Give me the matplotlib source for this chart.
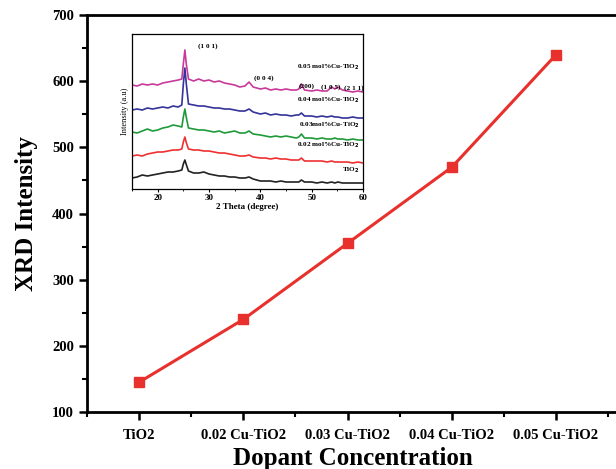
import numpy as np
import matplotlib.pyplot as plt
from matplotlib.ticker import MultipleLocator

plt.rcParams['font.family'] = ['Liberation Serif', 'DejaVu Serif']
plt.rcParams['font.weight'] = 'bold'

# main series
categories = ['TiO2', '0.02 Cu-TiO2', '0.03 Cu-TiO2', '0.04 Cu-TiO2', '0.05 Cu-TiO2']
xrd_intensity = [145, 240, 355, 470, 640]

# inset: XRD patterns (offset, arbitrary units)
two_theta = [15, 16, 17, 18, 19, 20, 21, 22, 23, 24,
             24.7, 25.0, 25.3, 25.6, 26.0,
             27, 28, 29, 30, 31, 32, 33, 34, 35, 36, 37,
             37.8, 38.6,
             40, 41, 42, 43, 44, 45, 46, 47,
             47.5, 48.0, 48.6,
             50, 51, 52, 53,
             53.9, 54.5, 55.1,
             56, 57, 58, 59, 60]
pat_005 = [104, 103, 105, 104, 105, 104, 106, 107, 108, 109,
           110, 125, 139, 124, 110,
           108, 110, 108, 109, 107, 108, 106, 105, 104, 102, 103,
           107, 102,
           100, 101, 99, 100, 99, 100, 99, 99,
           100, 105, 99,
           98, 99, 98, 98,
           102, 100, 102,
           99, 98, 97, 98, 97]
pat_004 = [79, 80, 79, 81, 80, 81, 82, 81, 83, 82,
           84, 105, 121, 104, 85,
           84, 83, 83, 82, 81, 81, 80, 80, 79, 78, 78,
           80, 77,
           75, 76, 74, 75, 74, 74, 73, 74,
           74, 76, 73,
           73, 72, 73, 72,
           73, 72, 72,
           71, 71, 72, 71, 71]
pat_003 = [57, 56, 58, 60, 58, 59, 61, 62, 64, 63,
           62, 72, 80, 71, 61,
           60, 59, 59, 58, 57, 58, 56, 57, 58, 56, 56,
           58, 55,
           54, 53, 52, 53, 52, 53, 52, 51,
           52, 55, 51,
           51, 50, 51, 50,
           50, 51, 50,
           50, 49, 50, 49, 49]
pat_002 = [33, 34, 33, 35, 36, 37, 37, 38, 39, 39,
           40, 47, 52, 46, 40,
           39, 39, 38, 38, 37, 36, 36, 35, 34, 33, 33,
           34, 32,
           31, 31, 30, 31, 30, 30, 29, 29,
           29, 31, 28,
           28, 28, 28, 27,
           28, 27, 27,
           27, 27, 26, 27, 26]
pat_tio2 = [11, 12, 14, 13, 14, 15, 16, 17, 17, 18,
            19, 25, 29, 24, 18,
            16, 16, 17, 15, 14, 13, 13, 12, 12, 11, 11,
            12, 10,
            8, 8, 8, 7, 8, 7, 7, 7,
            7, 9, 7,
            7, 6, 7, 6,
            7, 6, 7,
            6, 6, 6, 6, 6]
inset_labels = ['0.05 mol%Cu-TiO$_2$', '0.04 mol%Cu-TiO$_2$', '0.03mol%Cu-TiO$_2$',
                '0.02 mol%Cu-TiO$_2$', 'TiO$_2$']

fig = plt.figure(figsize=(6.16, 4.69), dpi=100)
ax = fig.add_axes([0.1412, 0.1215, 0.863, 0.8465])

x = np.arange(1, len(categories) + 1)
ax.plot(x, xrd_intensity, color='#e8302c', lw=2.2, marker='s', ms=6.5,
        mec='#e8302c', mfc='#e8302c')
ax.set_xlim(0.5, 5.6)
ax.set_ylim(100, 700)
ax.set_xticks(x)
ax.set_xticklabels(categories, fontsize=10.5, fontweight='bold')
ax.xaxis.set_minor_locator(MultipleLocator(0.5))
ax.yaxis.set_major_locator(MultipleLocator(100))
ax.yaxis.set_minor_locator(MultipleLocator(50))
ax.tick_params(which='major', direction='out', length=6, width=1.8, labelsize=10.5)
ax.tick_params(axis='x', which='major', pad=6)
ax.tick_params(which='minor', direction='out', length=3.5, width=1.5)
for s in ax.spines.values():
    s.set_linewidth(2)
ax.set_xlabel('Dopant Concentration', fontsize=18, fontweight='bold', labelpad=4)
ax.set_ylabel('XRD Intensity', fontsize=18, fontweight='bold', labelpad=10)

# inset
ins = fig.add_axes([0.2143, 0.597, 0.375, 0.3305])
cols = ['#c8399a', '#333399', '#1f9a3a', '#ee3030', '#222222']
pats = [pat_005, pat_004, pat_003, pat_002, pat_tio2]
for p, c in zip(pats, cols):
    ins.plot(two_theta, p, color=c, lw=1.2)
ins.set_xlim(15, 60)
ins.set_ylim(0, 155)
ins.set_yticks([])
ins.set_xticks([20, 30, 40, 50, 60])
ins.xaxis.set_minor_locator(MultipleLocator(5))
ins.tick_params(axis='x', which='major', direction='out', length=2.5, width=0.8,
                labelsize=6.5, pad=1)
ins.tick_params(axis='x', which='minor', direction='out', length=1.5, width=0.6)
for s in ins.spines.values():
    s.set_linewidth(0.9)
ins.set_xlabel('2 Theta (degree)', fontsize=6.5, fontweight='bold', labelpad=1)
ins.set_ylabel('Intensity (a.u)', fontsize=6, fontweight='normal', labelpad=2)

lab_y = [117, 84, 59, 39, 14]
for t, yy in zip(inset_labels, lab_y):
    ins.text(59.3, yy, t, fontsize=5.2, fontweight='bold', ha='right', va='bottom')
ins.text(29.8, 143, '(1 0 1)', fontsize=5.2, fontweight='bold', ha='center', va='center')
ins.text(40.7, 111, '(0 0 4)', fontsize=5.2, fontweight='bold', ha='center', va='center')
ins.text(49.1, 103, '(200)', fontsize=5.2, fontweight='bold', ha='center', va='center')
ins.text(53.7, 102, '(1 0 5)', fontsize=5.2, fontweight='bold', ha='center', va='center')
ins.text(58.3, 101, '(2 1 1)', fontsize=5.2, fontweight='bold', ha='center', va='center')

fig.savefig('out.png', dpi=100)
